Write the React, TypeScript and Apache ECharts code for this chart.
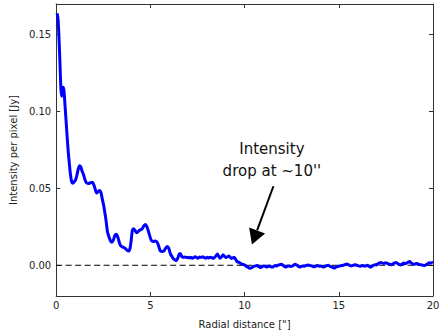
import React, { useEffect, useRef } from "react";
import * as echarts from "echarts";

const radius = [
  0.05, 0.1, 0.15, 0.2, 0.25, 0.29, 0.34, 0.38, 0.42, 0.47, 0.52, 0.58, 0.64, 0.7, 0.76, 0.82, 0.88, 0.95,
  1.03, 1.1, 1.17, 1.24, 1.3, 1.37, 1.45, 1.52, 1.6, 1.7, 1.8, 1.9, 1.98, 2.06, 2.14, 2.22, 2.3, 2.38, 2.45,
  2.52, 2.6, 2.66, 2.72, 2.8, 2.88, 2.96, 3.04, 3.12, 3.2, 3.28, 3.36, 3.44, 3.54, 3.64, 3.74, 3.84, 3.92,
  3.98, 4.04, 4.1, 4.18, 4.26, 4.34, 4.42, 4.5, 4.58, 4.66, 4.74, 4.82, 4.9, 4.98, 5.06, 5.16, 5.26, 5.36,
  5.44, 5.52, 5.62, 5.72, 5.8, 5.9, 5.98, 6.06, 6.14, 6.22, 6.3, 6.38, 6.46, 6.54, 6.6, 6.66, 6.74, 6.82,
  6.9, 6.98, 7.06, 7.14, 7.22, 7.3, 7.38, 7.46, 7.54, 7.62, 7.7, 7.78, 7.86, 7.94, 8.02, 8.1, 8.18, 8.26,
  8.34, 8.42, 8.5, 8.56, 8.62, 8.7, 8.78, 8.86, 8.94, 9.0, 9.08, 9.16, 9.24, 9.3, 9.38, 9.44, 9.52, 9.6,
  9.68, 9.76, 9.84, 9.92, 10.0, 10.06, 10.12, 10.2, 10.28, 10.36, 10.44, 10.52, 10.6, 10.68, 10.76, 10.84,
  10.92, 11.0, 11.08, 11.16, 11.24, 11.32, 11.4, 11.48, 11.56, 11.64, 11.72, 11.8, 11.88, 11.96, 12.04,
  12.12, 12.2, 12.28, 12.36, 12.44, 12.52, 12.6, 12.68, 12.76, 12.84, 12.92, 13.0, 13.08, 13.16, 13.24,
  13.32, 13.4, 13.48, 13.56, 13.64, 13.72, 13.8, 13.88, 13.96, 14.04, 14.12, 14.2, 14.28, 14.36, 14.44,
  14.52, 14.6, 14.68, 14.76, 14.84, 14.92, 15.0, 15.08, 15.16, 15.24, 15.32, 15.4, 15.48, 15.56, 15.64,
  15.72, 15.8, 15.88, 15.96, 16.04, 16.12, 16.2, 16.28, 16.36, 16.44, 16.52, 16.6, 16.68, 16.76, 16.84,
  16.92, 17.0, 17.08, 17.16, 17.24, 17.32, 17.4, 17.48, 17.56, 17.64, 17.72, 17.8, 17.88, 17.96, 18.04,
  18.12, 18.2, 18.28, 18.36, 18.44, 18.52, 18.6, 18.68, 18.76, 18.84, 18.92, 19.0, 19.08, 19.16, 19.24,
  19.32, 19.4, 19.48, 19.56, 19.64, 19.72, 19.8, 19.88, 19.96, 20.0,
];

const intensity = [
  0.164, 0.16, 0.148, 0.132, 0.115, 0.11, 0.114, 0.1158, 0.113, 0.104, 0.095, 0.084, 0.074, 0.066, 0.059,
  0.0545, 0.0534, 0.0542, 0.0556, 0.0585, 0.0625, 0.0648, 0.0642, 0.0615, 0.059, 0.056, 0.0538, 0.0532,
  0.0535, 0.054, 0.053, 0.05, 0.047, 0.0478, 0.0487, 0.0472, 0.043, 0.039, 0.033, 0.028, 0.022, 0.0185,
  0.016, 0.015, 0.0165, 0.0195, 0.0202, 0.018, 0.0145, 0.0125, 0.0118, 0.0112, 0.01, 0.0092, 0.011, 0.016,
  0.0225, 0.0238, 0.0228, 0.0212, 0.0218, 0.0228, 0.0232, 0.024, 0.0258, 0.0266, 0.025, 0.022, 0.0185,
  0.016, 0.0155, 0.0158, 0.015, 0.0125, 0.0095, 0.009, 0.0093, 0.011, 0.0122, 0.011, 0.0075, 0.0058,
  0.0042, 0.0036, 0.003, 0.0048, 0.0075, 0.0075, 0.0058, 0.0052, 0.0054, 0.005, 0.0052, 0.0048, 0.0052,
  0.0046, 0.005, 0.0056, 0.005, 0.0046, 0.0054, 0.005, 0.0056, 0.005, 0.0046, 0.0052, 0.0048, 0.0052,
  0.005, 0.0044, 0.0052, 0.0064, 0.0074, 0.006, 0.0046, 0.0055, 0.0068, 0.0058, 0.005, 0.0054, 0.006,
  0.0052, 0.0044, 0.0048, 0.0052, 0.004, 0.0024, 0.002, 0.0014, 0.0008, 0.0006, 0.0002, -0.0004, -0.001,
  -0.0014, -0.002, -0.0018, -0.001, -0.0006, -0.0004, -0.0002, -0.001, -0.0014, -0.001, -0.0004, -0.0006,
  -0.0012, -0.0008, -0.0004, -0.001, -0.0012, -0.0006, -0.0002, -0.0004, 0.0002, 0.0004, 0.0006, 0.0,
  -0.0008, -0.0012, -0.0006, -0.0004, -0.0008, -0.0006, 0.0, 0.0006, 0.0002, -0.0006, -0.0012, -0.0008,
  -0.0004, -0.0006, -0.0002, 0.0, 0.0002, -0.0002, -0.0004, -0.0008, -0.001, -0.0004, -0.0002, -0.0006,
  -0.0004, -0.0008, -0.0012, -0.0008, -0.0002, 0.0, -0.0006, -0.001, -0.0014, -0.0018, -0.0012, -0.0008,
  -0.0006, -0.0004, -0.0002, 0.0, 0.0004, 0.0008, 0.0006, 0.0, -0.0004, -0.0002, 0.0002, 0.0004, 0.0,
  -0.0004, -0.0006, -0.0004, -0.0002, -0.0006, -0.0004, 0.0, -0.0006, -0.0012, -0.0006, 0.0, 0.0004,
  0.0002, 0.001, 0.0016, 0.0018, 0.0014, 0.0012, 0.0016, 0.0014, 0.0008, 0.0006, 0.0004, 0.001, 0.0016,
  0.0018, 0.0012, 0.0006, 0.0002, 0.0008, 0.0014, 0.001, 0.0014, 0.002, 0.0024, 0.0016, 0.0008, 0.0006,
  0.001, 0.0012, 0.0006, 0.0004, 0.0002, 0.0, -0.0002, 0.0004, 0.001, 0.0016, 0.0014, 0.0018, 0.0016,
];

const xTicks = [0, 5, 10, 15, 20];
const yTicks = [0, 0.05, 0.1, 0.15];
const zeroLine = [
  [0, 0],
  [20, 0],
];

const annotationText = "Intensity\ndrop at ~10''";
const annotationTextAt = [11.45, 0.0688];
const arrowTail = [11.53, 0.0514];
const arrowTip = [10.39, 0.0135];

const FONT = "DejaVu Sans";
const AXIS_COLOR = "#333";

export default function App() {
  const ref = useRef<HTMLDivElement>(null);

  useEffect(() => {
    if (!ref.current) return;
    document.body.style.margin = "0";
    const chart = echarts.init(ref.current, undefined, { renderer: "svg" });
    const lineData = radius.map((r, i) => [r, intensity[i]]);

    const xCommon = {
      type: "value",
      min: 0,
      max: 20,
      interval: 5,
      splitLine: { show: false },
      axisLine: { show: true, onZero: false, lineStyle: { color: AXIS_COLOR, width: 1 } },
      axisTick: { show: true, inside: true, length: 4, lineStyle: { color: AXIS_COLOR } },
    };
    const yCommon = {
      type: "value",
      min: -0.02,
      max: 0.17,
      splitLine: { show: false },
      axisLine: { show: true, onZero: false, lineStyle: { color: AXIS_COLOR, width: 1 } },
      axisTick: {
        show: true,
        inside: true,
        length: 4,
        customValues: yTicks,
        lineStyle: { color: AXIS_COLOR },
      },
    };

    chart.setOption({
      animation: false,
      backgroundColor: "#fff",
      grid: { left: 52, right: 14, top: 4, bottom: 35, containLabel: false },
      xAxis: [
        {
          ...xCommon,
          position: "bottom",
          name: 'Radial distance ["]',
          nameLocation: "middle",
          nameGap: 23,
          nameTextStyle: { fontFamily: FONT, fontSize: 10, color: "#222" },
          axisLabel: {
            show: true,
            margin: 4,
            fontFamily: FONT,
            fontSize: 10,
            color: "#222",
            customValues: xTicks,
          },
        },
        {
          ...xCommon,
          position: "top",
          axisLabel: { show: false },
        },
      ],
      yAxis: [
        {
          ...yCommon,
          position: "left",
          name: "Intensity per pixel [Jy]",
          nameLocation: "middle",
          nameGap: 36,
          nameTextStyle: { fontFamily: FONT, fontSize: 10, color: "#222" },
          axisLabel: {
            show: true,
            margin: 5,
            fontFamily: FONT,
            fontSize: 10,
            color: "#222",
            customValues: yTicks,
            formatter: (v: number) => v.toFixed(2),
          },
        },
        {
          ...yCommon,
          position: "right",
          axisLabel: { show: false },
        },
      ],
      series: [
        {
          type: "line",
          data: zeroLine,
          xAxisIndex: 0,
          yAxisIndex: 0,
          symbol: "none",
          silent: true,
          z: 1,
          lineStyle: { color: "#000", width: 1, type: [6, 3.5] },
        },
        {
          type: "line",
          data: lineData,
          xAxisIndex: 0,
          yAxisIndex: 0,
          symbol: "none",
          smooth: 0.2,
          z: 2,
          lineStyle: { color: "#0000ff", width: 3 },
        },
      ],
    });

    const tp = chart.convertToPixel({ gridIndex: 0 }, annotationTextAt) as number[];
    const tail = chart.convertToPixel({ gridIndex: 0 }, arrowTail) as number[];
    const tip = chart.convertToPixel({ gridIndex: 0 }, arrowTip) as number[];
    const dx = tip[0] - tail[0];
    const dy = tip[1] - tail[1];
    const len = Math.sqrt(dx * dx + dy * dy);
    const ux = dx / len;
    const uy = dy / len;
    const headLen = 15;
    const headHalf = 8.5;
    const bx = tip[0] - ux * headLen;
    const by = tip[1] - uy * headLen;
    const px = -uy;
    const py = ux;

    chart.setOption({
      graphic: [
        {
          type: "text",
          x: tp[0],
          y: tp[1],
          style: {
            text: annotationText,
            fontFamily: FONT,
            fontSize: 15,
            lineHeight: 22,
            fill: "#111",
            align: "center",
            verticalAlign: "middle",
          },
          z: 10,
        },
        {
          type: "line",
          shape: { x1: tail[0], y1: tail[1], x2: bx, y2: by },
          style: { stroke: "#000", lineWidth: 2 },
          z: 10,
        },
        {
          type: "polygon",
          shape: {
            points: [
              [tip[0], tip[1]],
              [bx + px * headHalf, by + py * headHalf],
              [bx - px * headHalf, by - py * headHalf],
            ],
          },
          style: { fill: "#000" },
          z: 10,
        },
      ],
    });

    return () => chart.dispose();
  }, []);

  return <div ref={ref} style={{ width: 447, height: 334 }} />;
}
